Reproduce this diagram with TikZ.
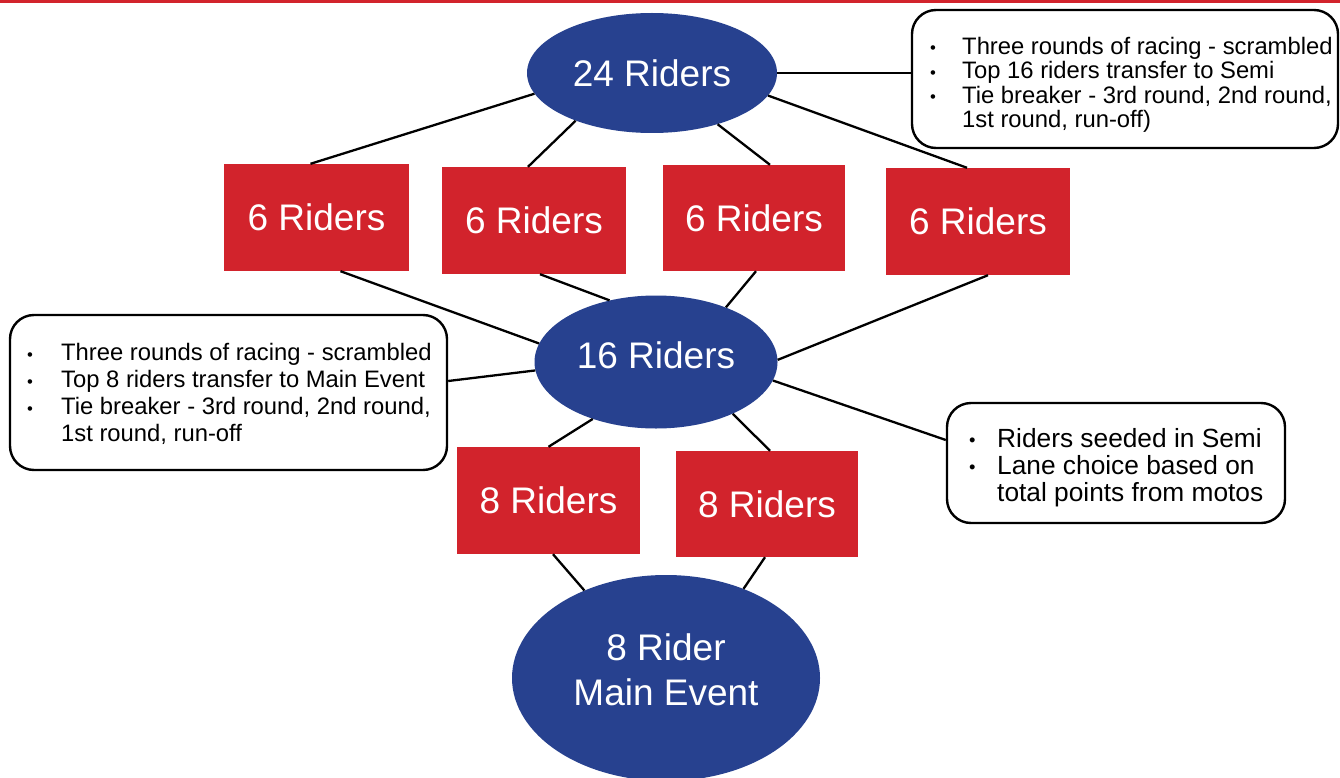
\documentclass[tikz,border=0pt]{standalone}
\usepackage{fontspec}
\setmainfont{Liberation Sans}
\usetikzlibrary{shapes.geometric}
\definecolor{rblue}{RGB}{39,65,143}
\definecolor{rred}{RGB}{210,35,44}
\newcommand{\smallbul}{\raisebox{0.02em}{\scalebox{0.7}{•}}}
\begin{document}
\begin{tikzpicture}[x=1pt,y=-1pt,
  oval/.style={ellipse, fill=rblue, draw=none, text=white, inner sep=0, font=\fontsize{37}{45}\selectfont, align=center},
  box/.style={rectangle, fill=rred, draw=none, text=white, inner sep=0, font=\fontsize{37}{45}\selectfont},
  callout/.style={draw=black, line width=2.4, rounded corners=24, fill=white, inner sep=0},
  calltext/.style={inner sep=0, anchor=west, align=left},
  link/.style={draw=black, line width=2.3}]
\useasboundingbox (0,0) rectangle (1340,778);
\fill[white] (0,0) rectangle (1340,778);
\draw[rred, line width=3] (0,1.5) -- (1340,1.5);

% callouts (behind lines drawn later)
\node[callout, minimum width=426, minimum height=138] (ct) at (1125,79) {};
\node[callout, minimum width=437, minimum height=155] (cl) at (228.5,392.5) {};
\node[callout, minimum width=338, minimum height=120] (cr) at (1116,463) {};

\node[calltext, font=\fontsize{23.8}{24}\selectfont] (ctt) at (930,86)
  {\begin{tabular}{@{}p{32pt}@{}l@{}}
   \smallbul&Three rounds of racing - scrambled\\
   \smallbul&Top 16 riders transfer to Semi\\
   \smallbul&Tie breaker - 3rd round, 2nd round,\\
   &1st round, run-off)
   \end{tabular}};
\node[calltext, font=\fontsize{23.8}{27}\selectfont] (clt) at (27,396)
  {\begin{tabular}{@{}p{34pt}@{}l@{}}
   \smallbul&Three rounds of racing - scrambled\\
   \smallbul&Top 8 riders transfer to Main Event\\
   \smallbul&Tie breaker - 3rd round, 2nd round,\\
   &1st round, run-off
   \end{tabular}};
\node[calltext, font=\fontsize{26.3}{27}\selectfont] (crt) at (969,469)
  {\begin{tabular}{@{}p{28pt}@{}l@{}}
   \smallbul&Riders seeded in Semi\\
   \smallbul&Lane choice based on\\
   &total points from motos
   \end{tabular}};

% main shapes
\node[oval, minimum width=250, minimum height=120] (top) at (652,73) {24 Riders};
\node[box, minimum width=185, minimum height=107] (A) at (316.5,217.5) {6 Riders};
\node[box, minimum width=184, minimum height=107] (B) at (534,220.5) {6 Riders};
\node[box, minimum width=182, minimum height=106] (C) at (754,218) {6 Riders};
\node[box, minimum width=184, minimum height=107] (D) at (978,221.5) {6 Riders};
\node[oval, minimum width=243, minimum height=133, text depth=13pt] (mid) at (656,362) {16 Riders};
\node[box, minimum width=183, minimum height=107] (E) at (548.5,500.5) {8 Riders};
\node[box, minimum width=182, minimum height=106] (F) at (767,504) {8 Riders};
\node[oval, minimum width=308, minimum height=206, text depth=17pt] (main) at (666,678) {8 Rider\\Main Event};

% connectors
\draw[link] (top.190) -- ([xshift=-6pt]A.north);
\draw[link] (top.212) -- ([xshift=-6pt]B.north);
\draw[link] (top.322) -- ([xshift=16pt]C.north);
\draw[link] (top.349) -- ([xshift=-11pt]D.north);
\draw[link] (top.east) -- (top.east -| ct.west);

\draw[link] ([xshift=24pt]A.south) -- (mid.171);
\draw[link] ([xshift=6pt]B.south) -- (mid.127);
\draw[link] ([xshift=2pt]C.south) -- (mid.38);
\draw[link] ([xshift=10pt]D.south) -- (mid.1);
\draw[link] (mid.184) -- ([yshift=11.5pt]cl.east);
\draw[link] (mid.351) -- ([yshift=23pt]cr.west);
\draw[link] (mid.222) -- (E.north);
\draw[link] (mid.326) -- ([xshift=3pt]F.north);

\draw[link] ([xshift=4.5pt]E.south) -- (main.133);
\draw[link] ([xshift=-2pt]F.south) -- (main.49);
\end{tikzpicture}
\end{document}
